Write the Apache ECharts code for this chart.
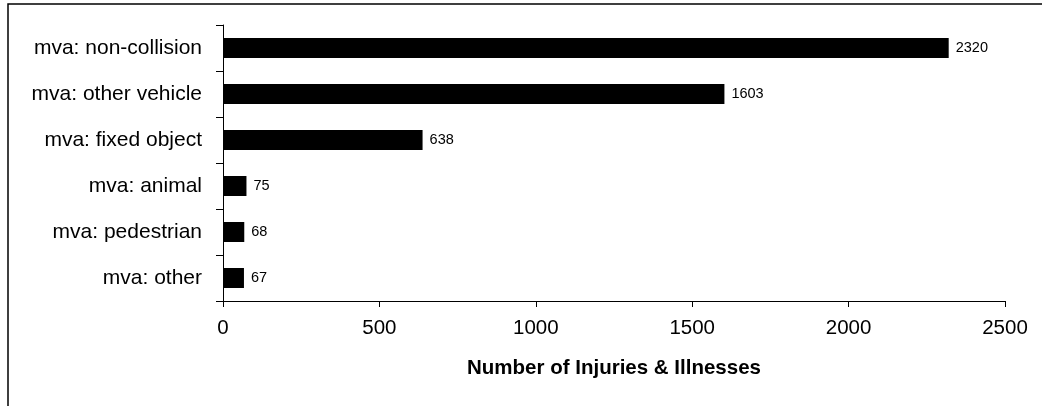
<!DOCTYPE html>
<html>
<head>
<meta charset="utf-8">
<script src="https://cdn.jsdelivr.net/npm/echarts@6/dist/echarts.min.js"></script>
<style>
html,body{margin:0;padding:0;background:#fff;}
#chart{width:1042px;height:406px;}
</style>
</head>
<body>
<div id="chart"></div>
<script>
const categories = ["mva: non-collision","mva: other vehicle","mva: fixed object","mva: animal","mva: pedestrian","mva: other"];
const values = [2320, 1603, 638, 75, 68, 67];
const xTicks = [0, 500, 1000, 1500, 2000, 2500];
const xTitle = "Number of Injuries & Illnesses";

const chart = echarts.init(document.getElementById('chart'), null, {renderer:'canvas'});
const font = '"Liberation Sans", Arial, sans-serif';
chart.setOption({
  animation: false,
  backgroundColor: '#fff',
  graphic: [{
    type: 'rect', silent: true, z: 100,
    shape: {x: 8, y: 4, width: 1200, height: 600},
    style: {fill: 'none', stroke: '#000', lineWidth: 1.5}
  }],
  grid: {left: 223, right: 37, top: 25, bottom: 105, containLabel: false},
  xAxis: {
    type: 'value', min: xTicks[0], max: xTicks[xTicks.length-1], interval: 500,
    name: xTitle, nameLocation: 'middle', nameGap: 57,
    nameTextStyle: {fontFamily: font, fontSize: 20.5, fontWeight: 'bold', color: '#000'},
    axisLine: {show: true, lineStyle: {color: '#000', width: 1}},
    axisTick: {show: true, length: 6, lineStyle: {color: '#000'}},
    axisLabel: {fontFamily: font, fontSize: 20.5, color: '#000', margin: 17, formatter: function (v) { return String(v); }},
    splitLine: {show: false}
  },
  yAxis: {
    type: 'category', data: categories, inverse: true,
    axisLine: {show: true, lineStyle: {color: '#000', width: 1}},
    axisTick: {show: true, length: 7, inside: false, alignWithLabel: false, lineStyle: {color: '#000'}},
    axisLabel: {fontFamily: font, fontSize: 21, color: '#000', margin: 21},
    splitLine: {show: false}
  },
  series: [{
    type: 'bar', data: values, barWidth: 20,
    itemStyle: {color: '#000'},
    label: {show: true, position: 'right', distance: 7, fontFamily: font, fontSize: 14.5, color: '#000'}
  }]
});
</script>
</body>
</html>
